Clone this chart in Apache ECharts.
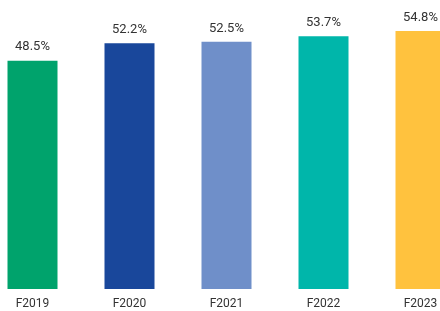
<!DOCTYPE html>
<html><head><meta charset="utf-8">
<script src="https://cdn.jsdelivr.net/npm/echarts@6/dist/echarts.min.js"></script>
<style>html,body{margin:0;padding:0;background:#fff;overflow:hidden;width:440px;height:311px}#c{position:absolute;left:-16.5px;top:0;width:485px;height:311px}</style>
</head><body><div id="c"></div>
<script>
const categories = ["F2019","F2020","F2021","F2022","F2023"];
const values = [48.5, 52.2, 52.5, 53.7, 54.8];
const colors = ["#00A36C","#19479B","#6F8FC9","#00B6AA","#FFC23E"];
const chart = echarts.init(document.getElementById('c'));
chart.setOption({
  animation:false,
  grid:{left:0,right:0,top:6.5,bottom:22,containLabel:false},
  xAxis:{type:'category',data:categories,axisLine:{show:false},axisTick:{show:false},
    axisLabel:{color:'#333',fontSize:12,fontFamily:'Roboto',margin:9,interval:0}},
  yAxis:{type:'value',min:0,max:60,show:false,splitLine:{show:false}},
  series:[{type:'bar',barWidth:50,
    data:values.map((v,i)=>({value:v,itemStyle:{color:colors[i]}})),
    label:{show:true,position:'top',distance:7,color:'#333',fontSize:13,fontFamily:'Roboto',formatter:p=>p.value.toFixed(1)+'%'}}]
});
</script></body></html>
